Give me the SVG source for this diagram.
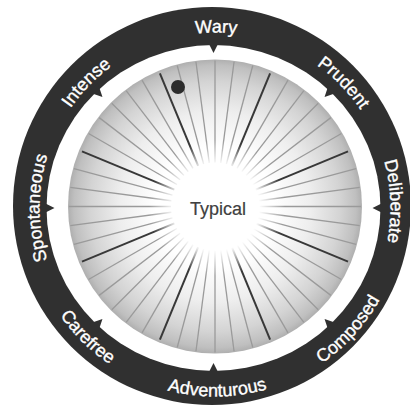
<svg xmlns="http://www.w3.org/2000/svg" xmlns:xlink="http://www.w3.org/1999/xlink" width="410" height="411" viewBox="0 0 410 411">
  <style>
    .lbl { font-family: "Liberation Sans", Arial, sans-serif; font-size: 18px; fill: #ffffff; stroke: #ffffff; stroke-width: 0.35px; }
    .center { font-family: "Liberation Sans", Arial, sans-serif; font-size: 18px; fill: #404040; stroke: #404040; stroke-width: 0.2px; }
    .ring { fill: #303030; }
    .thin line { stroke: #9a9a9a; stroke-width: 1.3; }
    .dark line { stroke: #383838; stroke-width: 2; }
  </style>
  <defs>
    <radialGradient id="disk" gradientUnits="userSpaceOnUse" cx="215" cy="206.5" r="147">
      <stop offset="0" stop-color="#ffffff"/>
      <stop offset="0.4" stop-color="#ffffff"/>
      <stop offset="0.65" stop-color="#eeeeee"/>
      <stop offset="0.85" stop-color="#d4d4d4"/>
      <stop offset="0.96" stop-color="#bfbfbf"/>
      <stop offset="1" stop-color="#afafaf"/>
    </radialGradient>
    <radialGradient id="glow" gradientUnits="userSpaceOnUse" cx="217" cy="208" r="68">
      <stop offset="0" stop-color="#ffffff" stop-opacity="1"/>
      <stop offset="0.62" stop-color="#ffffff" stop-opacity="1"/>
      <stop offset="1" stop-color="#ffffff" stop-opacity="0"/>
    </radialGradient>
    <polygon id="tri" points="-6.5,-5 6.5,-5 0,8"/>
    <path id="cw" d="M 215 383.5 A 175.5 175.5 0 1 1 215 32.5 A 175.5 175.5 0 1 1 215 383.5"/>
    <path id="ccw" d="M 215 19.5 A 188.5 188.5 0 1 0 215 396.5 A 188.5 188.5 0 1 0 215 19.5"/>
  </defs>

  <g id="outer-ring">
    <circle class="ring" cx="212" cy="206" r="199"/>
    <ellipse cx="213.5" cy="208" rx="167" ry="163" fill="#ffffff"/>
  </g>

  <g id="pointers" class="ring">
    <use xlink:href="#tri" transform="translate(213.5,45) rotate(0)"/>
    <use xlink:href="#tri" transform="translate(330.2,91.3) rotate(45)"/>
    <use xlink:href="#tri" transform="translate(380.5,208) rotate(90)"/>
    <use xlink:href="#tri" transform="translate(330.2,324.7) rotate(135)"/>
    <use xlink:href="#tri" transform="translate(213.5,371) rotate(180)"/>
    <use xlink:href="#tri" transform="translate(96.8,324.7) rotate(225)"/>
    <use xlink:href="#tri" transform="translate(46.5,208) rotate(270)"/>
    <use xlink:href="#tri" transform="translate(96.8,91.3) rotate(315)"/>
  </g>

  <g id="disk-area">
    <circle cx="215" cy="206.5" r="147" fill="url(#disk)"/>
    <g class="thin" transform="translate(215,206.5)">
      <line x1="0" y1="-44" x2="0" y2="-146" transform="rotate(0)"/>
      <line x1="0" y1="-44" x2="0" y2="-146" transform="rotate(7.5)"/>
      <line x1="0" y1="-44" x2="0" y2="-146" transform="rotate(15)"/>
      <line x1="0" y1="-44" x2="0" y2="-146" transform="rotate(30)"/>
      <line x1="0" y1="-44" x2="0" y2="-146" transform="rotate(37.5)"/>
      <line x1="0" y1="-44" x2="0" y2="-146" transform="rotate(45)"/>
      <line x1="0" y1="-44" x2="0" y2="-146" transform="rotate(52.5)"/>
      <line x1="0" y1="-44" x2="0" y2="-146" transform="rotate(60)"/>
      <line x1="0" y1="-44" x2="0" y2="-146" transform="rotate(75)"/>
      <line x1="0" y1="-44" x2="0" y2="-146" transform="rotate(82.5)"/>
      <line x1="0" y1="-44" x2="0" y2="-146" transform="rotate(90)"/>
      <line x1="0" y1="-44" x2="0" y2="-146" transform="rotate(97.5)"/>
      <line x1="0" y1="-44" x2="0" y2="-146" transform="rotate(105)"/>
      <line x1="0" y1="-44" x2="0" y2="-146" transform="rotate(120)"/>
      <line x1="0" y1="-44" x2="0" y2="-146" transform="rotate(127.5)"/>
      <line x1="0" y1="-44" x2="0" y2="-146" transform="rotate(135)"/>
      <line x1="0" y1="-44" x2="0" y2="-146" transform="rotate(142.5)"/>
      <line x1="0" y1="-44" x2="0" y2="-146" transform="rotate(150)"/>
      <line x1="0" y1="-44" x2="0" y2="-146" transform="rotate(165)"/>
      <line x1="0" y1="-44" x2="0" y2="-146" transform="rotate(172.5)"/>
      <line x1="0" y1="-44" x2="0" y2="-146" transform="rotate(180)"/>
      <line x1="0" y1="-44" x2="0" y2="-146" transform="rotate(187.5)"/>
      <line x1="0" y1="-44" x2="0" y2="-146" transform="rotate(195)"/>
      <line x1="0" y1="-44" x2="0" y2="-146" transform="rotate(210)"/>
      <line x1="0" y1="-44" x2="0" y2="-146" transform="rotate(217.5)"/>
      <line x1="0" y1="-44" x2="0" y2="-146" transform="rotate(225)"/>
      <line x1="0" y1="-44" x2="0" y2="-146" transform="rotate(232.5)"/>
      <line x1="0" y1="-44" x2="0" y2="-146" transform="rotate(240)"/>
      <line x1="0" y1="-44" x2="0" y2="-146" transform="rotate(255)"/>
      <line x1="0" y1="-44" x2="0" y2="-146" transform="rotate(262.5)"/>
      <line x1="0" y1="-44" x2="0" y2="-146" transform="rotate(270)"/>
      <line x1="0" y1="-44" x2="0" y2="-146" transform="rotate(277.5)"/>
      <line x1="0" y1="-44" x2="0" y2="-146" transform="rotate(285)"/>
      <line x1="0" y1="-44" x2="0" y2="-146" transform="rotate(300)"/>
      <line x1="0" y1="-44" x2="0" y2="-146" transform="rotate(307.5)"/>
      <line x1="0" y1="-44" x2="0" y2="-146" transform="rotate(315)"/>
      <line x1="0" y1="-44" x2="0" y2="-146" transform="rotate(322.5)"/>
      <line x1="0" y1="-44" x2="0" y2="-146" transform="rotate(330)"/>
      <line x1="0" y1="-44" x2="0" y2="-146" transform="rotate(345)"/>
      <line x1="0" y1="-44" x2="0" y2="-146" transform="rotate(352.5)"/>
    </g>
    <g class="dark" transform="translate(215,206.5)">
      <line x1="0" y1="-44" x2="0" y2="-144" transform="rotate(22.5)"/>
      <line x1="0" y1="-44" x2="0" y2="-144" transform="rotate(67.5)"/>
      <line x1="0" y1="-44" x2="0" y2="-144" transform="rotate(112.5)"/>
      <line x1="0" y1="-44" x2="0" y2="-144" transform="rotate(157.5)"/>
      <line x1="0" y1="-44" x2="0" y2="-144" transform="rotate(202.5)"/>
      <line x1="0" y1="-44" x2="0" y2="-144" transform="rotate(247.5)"/>
      <line x1="0" y1="-44" x2="0" y2="-144" transform="rotate(292.5)"/>
      <line x1="0" y1="-44" x2="0" y2="-144" transform="rotate(337.5)"/>
    </g>
    <circle cx="217" cy="208" r="68" fill="url(#glow)"/>
  </g>

  <g id="marker-dot">
    <circle cx="178" cy="87" r="7" fill="#2c2c2c"/>
  </g>

  <g id="typical">
    <text class="center" x="218" y="215" text-anchor="middle">Typical</text>
  </g>

  <g id="label-spontaneous"><text class="lbl" text-anchor="middle"><textPath xlink:href="#cw" startOffset="25%">Spontaneous</textPath></text></g>
  <g id="label-intense"><text class="lbl" text-anchor="middle"><textPath xlink:href="#cw" startOffset="37.3%">Intense</textPath></text></g>
  <g id="label-wary"><text class="lbl" text-anchor="middle"><textPath xlink:href="#cw" startOffset="50.1%">Wary</textPath></text></g>
  <g id="label-prudent"><text class="lbl" text-anchor="middle"><textPath xlink:href="#cw" startOffset="62.7%">Prudent</textPath></text></g>
  <g id="label-deliberate"><text class="lbl" text-anchor="middle"><textPath xlink:href="#cw" startOffset="74.4%">Deliberate</textPath></text></g>
  <g id="label-carefree"><text class="lbl" text-anchor="middle"><textPath xlink:href="#ccw" startOffset="37.6%">Carefree</textPath></text></g>
  <g id="label-adventurous"><text class="lbl" text-anchor="middle"><textPath xlink:href="#ccw" startOffset="50.2%">Adventurous</textPath></text></g>
  <g id="label-composed"><text class="lbl" text-anchor="middle"><textPath xlink:href="#ccw" startOffset="63.25%">Composed</textPath></text></g>
</svg>
